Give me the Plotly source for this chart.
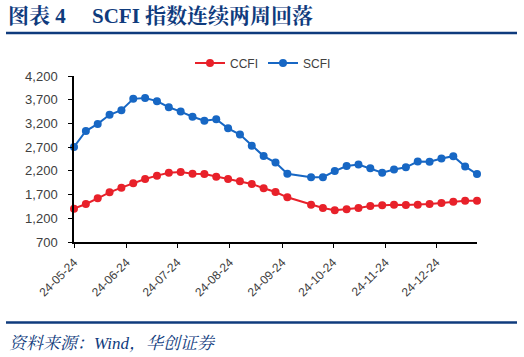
import plotly.graph_objects as go

dates = ["2024-05-24","2024-05-31","2024-06-07","2024-06-14","2024-06-21","2024-06-28",
         "2024-07-05","2024-07-12","2024-07-19","2024-07-26","2024-08-02","2024-08-09",
         "2024-08-16","2024-08-23","2024-08-30","2024-09-06","2024-09-13","2024-09-20",
         "2024-09-27","2024-10-11","2024-10-18","2024-10-25","2024-11-01","2024-11-08",
         "2024-11-15","2024-11-22","2024-11-29","2024-12-06","2024-12-13","2024-12-20",
         "2024-12-27","2025-01-03","2025-01-10","2025-01-17"]
scfi = [2703, 3040, 3190, 3382, 3478, 3718, 3734, 3670, 3542, 3450, 3340, 3256,
        3288, 3097, 2966, 2728, 2511, 2375, 2138, 2066, 2066, 2195, 2302, 2334,
        2253, 2160, 2228, 2274, 2395, 2392, 2462, 2510, 2294, 2132]
ccfi = [1403, 1501, 1621, 1747, 1846, 1937, 2028, 2099, 2162, 2176, 2141, 2134,
        2078, 2028, 1979, 1923, 1832, 1754, 1642, 1487, 1417, 1368, 1389, 1417,
        1459, 1473, 1487, 1480, 1487, 1501, 1522, 1550, 1571, 1571]
tick_dates = ["2024-05-24","2024-06-24","2024-07-24","2024-08-24",
              "2024-09-24","2024-10-24","2024-11-24","2024-12-24"]
tick_labels = ["24-05-24","24-06-24","24-07-24","24-08-24",
               "24-09-24","24-10-24","24-11-24","24-12-24"]
y_ticks = [700, 1200, 1700, 2200, 2700, 3200, 3700, 4200]

RED = "#E8212A"
BLUE = "#1767C4"
NAVY = "#0F3B7D"

fig = go.Figure()
fig.add_trace(go.Scatter(x=dates, y=ccfi, name="CCFI", mode="lines+markers",
                         line=dict(color=RED, width=2), marker=dict(color=RED, size=8),
                         cliponaxis=False))
fig.add_trace(go.Scatter(x=dates, y=scfi, name="SCFI", mode="lines+markers",
                         line=dict(color=BLUE, width=2), marker=dict(color=BLUE, size=8),
                         cliponaxis=False))

L, R, T, B = 74, 47, 76, 115
W, H = 524, 357
pw = W - L - R
ph = H - T - B

def px(xp):
    return (xp - L) / pw

def py(yp):
    return (H - B - yp) / ph

fig.update_layout(
    width=W, height=H,
    margin=dict(l=L, r=R, t=T, b=B),
    paper_bgcolor="white", plot_bgcolor="white",
    font=dict(family="Liberation Sans, Arial, sans-serif", size=12, color="#404040"),
    showlegend=True,
    legend=dict(orientation="h", x=px(190), y=py(63), xanchor="left", yanchor="middle",
                font=dict(size=12, color="#404040"), itemwidth=30,
                bgcolor="rgba(0,0,0,0)"),
    xaxis=dict(type="date", range=["2024-05-24", "2025-01-17"],
               tickvals=tick_dates, ticktext=tick_labels, tickangle=-45,
               showline=True, linecolor="#000", linewidth=1.5,
               ticks="outside", ticklen=4, tickcolor="#000", tickwidth=1.2,
               showgrid=False, zeroline=False, ticklabelstandoff=3,
               tickfont=dict(size=12, color="#404040")),
    yaxis=dict(range=[700, 4200], tickvals=y_ticks, tickformat=",",
               showline=True, linecolor="#000", linewidth=1.5,
               ticks="outside", ticklen=4, tickcolor="#000", tickwidth=1.2,
               showgrid=False, zeroline=False, ticklabelstandoff=8,
               tickfont=dict(size=13, color="#404040")),
    shapes=[
        dict(type="line", xref="paper", yref="paper", x0=px(6), x1=px(517),
             y0=py(33), y1=py(33), line=dict(color=NAVY, width=2.5)),
        dict(type="line", xref="paper", yref="paper", x0=px(6), x1=px(517),
             y0=py(322.5), y1=py(322.5), line=dict(color=NAVY, width=2.5)),
    ],
    annotations=[
        dict(text="<b>图表 4 &nbsp;&nbsp;&nbsp; SCFI 指数连续两周回落</b>", xref="paper", yref="paper",
             x=px(6), y=py(16), xanchor="left", yanchor="middle", showarrow=False,
             font=dict(family="Liberation Serif, Noto Serif CJK SC, Noto Sans CJK SC, serif",
                       size=21, color=NAVY)),
        dict(text="<i>资料来源：Wind，华创证券</i>", xref="paper", yref="paper",
             x=px(7), y=py(343), xanchor="left", yanchor="middle", showarrow=False,
             font=dict(family="Liberation Serif, Noto Serif CJK SC, Noto Sans CJK SC, serif",
                       size=17, color=NAVY)),
    ],
)

fig.write_html("out.html", config={"displayModeBar": False},
               post_script="document.body.style.margin='0';document.body.style.overflow='hidden';")
